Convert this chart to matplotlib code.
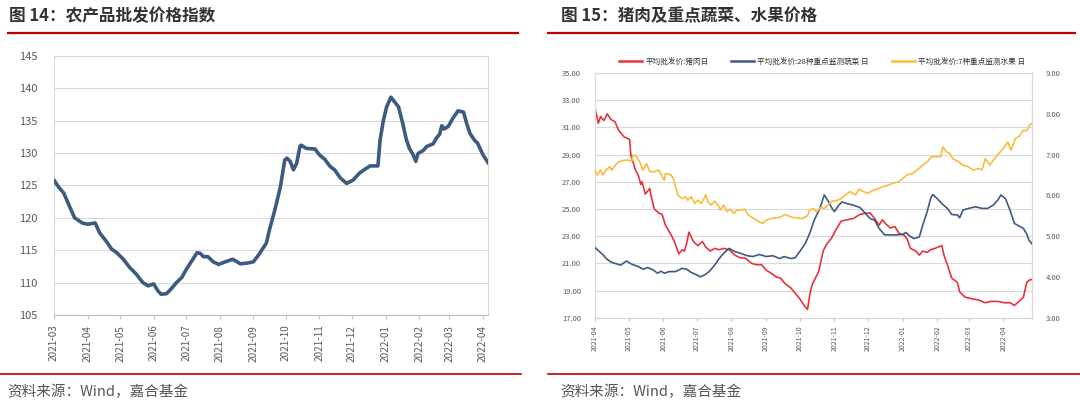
import numpy as np
import pandas as pd
import matplotlib
matplotlib.use('Agg')
import matplotlib.pyplot as plt
import matplotlib.dates as mdates

plt.rcParams['font.family'] = ['Noto Sans CJK SC', 'DejaVu Sans']

# ── Fig 14 data: 农产品批发价格指数 (days since 2021-03-01) ──────────────────
idx_days = [0, 4, 9, 15, 19, 26, 31, 38, 42, 49, 53, 58, 64, 70, 76, 82, 87, 92, 96, 99,
            104, 108, 113, 118, 122, 127, 132, 135, 138, 142, 147, 152, 158, 165, 172, 178,
            184, 189, 196, 199, 204, 209, 213, 215, 218, 221, 224, 227, 228, 233, 241, 245,
            250, 255, 259, 264, 270, 276, 282, 288, 292, 299, 301, 304, 307, 311, 318, 322,
            325, 328, 331, 334, 336, 341, 344, 350, 353, 356, 358, 360, 364, 368, 373, 378,
            381, 384, 388, 391, 396, 401]
idx_vals = [125.8, 124.8, 123.8, 121.5, 120.0, 119.2, 119.0, 119.2, 117.7, 116.2, 115.2, 114.6,
            113.6, 112.3, 111.3, 110.0, 109.5, 109.8, 108.7, 108.2, 108.3, 109.0, 110.0, 110.8,
            112.0, 113.3, 114.6, 114.5, 114.0, 114.0, 113.2, 112.8, 113.2, 113.6, 112.9, 113.0,
            113.2, 114.3, 116.1, 118.2, 121.3, 124.8, 128.9, 129.2, 128.7, 127.4, 128.4, 131.0,
            131.2, 130.7, 130.6, 129.7, 129.0, 127.9, 127.4, 126.2, 125.3, 125.8, 126.9, 127.6,
            128.0, 128.0, 132.0, 135.0, 137.1, 138.6, 137.1, 134.5, 132.2, 130.7, 129.9, 128.7,
            129.9, 130.4, 131.0, 131.4, 132.3, 132.9, 134.2, 133.7, 134.1, 135.3, 136.5, 136.3,
            134.5, 133.0, 132.0, 131.5, 129.7, 128.4]

# ── Fig 15 data (days since 2021-04-01) ───────────────────────────────────────
pork_days = [0, 3, 5, 8, 11, 14, 18, 21, 26, 29, 31, 32, 36, 39, 41, 42, 45, 49, 50, 53, 57,
             60, 63, 68, 71, 75, 78, 80, 82, 84, 88, 92, 96, 99, 103, 107, 111, 115, 120, 125,
             130, 134, 140, 144, 149, 153, 157, 162, 166, 170, 175, 179, 183, 187, 190, 192,
             194, 197, 200, 204, 207, 211, 215, 220, 225, 231, 237, 243, 246, 250, 254, 257,
             260, 264, 268, 272, 276, 279, 282, 287, 290, 293, 297, 300, 304, 310, 312, 315,
             319, 324, 326, 331, 337, 343, 349, 354, 360, 366, 371, 375, 379, 383, 386, 389, 391]
pork_vals = [32.4, 31.3, 31.8, 31.5, 32.0, 31.6, 31.4, 30.8, 30.3, 30.2, 30.1, 29.0, 27.9, 27.4,
             26.8, 27.0, 26.1, 26.5, 26.0, 25.0, 24.7, 24.6, 23.8, 23.1, 22.6, 21.7, 22.0, 21.9,
             22.5, 23.3, 22.6, 22.3, 22.6, 22.2, 21.9, 22.1, 22.0, 22.1, 22.0, 21.6, 21.4, 21.4,
             21.0, 20.9, 20.9, 20.5, 20.3, 20.0, 19.9, 19.5, 19.2, 18.8, 18.4, 17.9, 17.6, 18.7,
             19.4, 19.9, 20.4, 21.9, 22.4, 22.8, 23.4, 24.1, 24.2, 24.3, 24.6, 24.7, 24.7, 24.3,
             23.8, 24.2, 23.9, 23.6, 23.7, 23.2, 23.1, 22.8, 22.1, 21.9, 21.6, 21.9, 21.8, 22.0,
             22.1, 22.3, 21.6, 20.9, 19.9, 19.6, 18.9, 18.5, 18.4, 18.3, 18.1, 18.2, 18.2, 18.1,
             18.1, 17.9, 18.2, 18.5, 19.6, 19.8, 19.8]

veg_days = [0, 4, 7, 10, 14, 18, 23, 28, 33, 39, 43, 47, 52, 56, 59, 62, 66, 72, 78, 82, 86,
            91, 94, 98, 102, 107, 111, 115, 120, 125, 130, 136, 141, 147, 153, 159, 165, 169,
            175, 179, 183, 188, 192, 196, 201, 205, 208, 212, 214, 218, 221, 225, 231, 237,
            241, 246, 250, 254, 259, 263, 269, 275, 278, 281, 285, 290, 293, 297, 300, 302,
            306, 310, 315, 319, 324, 326, 329, 334, 340, 346, 351, 356, 360, 363, 367, 371,
            375, 379, 383, 386, 388, 391]
veg_vals = [4.72, 4.62, 4.55, 4.45, 4.37, 4.33, 4.29, 4.39, 4.31, 4.25, 4.19, 4.23, 4.17, 4.09,
            4.14, 4.09, 4.13, 4.13, 4.21, 4.19, 4.11, 4.05, 4.00, 4.05, 4.13, 4.29, 4.45, 4.58,
            4.70, 4.62, 4.58, 4.52, 4.50, 4.55, 4.50, 4.52, 4.45, 4.50, 4.45, 4.47, 4.62, 4.82,
            5.07, 5.39, 5.68, 6.01, 5.88, 5.68, 5.60, 5.76, 5.84, 5.80, 5.76, 5.70, 5.58, 5.43,
            5.39, 5.19, 5.03, 5.03, 5.03, 5.04, 5.09, 5.01, 4.94, 4.98, 5.27, 5.60, 5.92, 6.02,
            5.92, 5.80, 5.68, 5.53, 5.52, 5.45, 5.64, 5.68, 5.72, 5.68, 5.68, 5.76, 5.88, 6.01,
            5.92, 5.64, 5.31, 5.25, 5.19, 5.05, 4.90, 4.80]

fruit_days = [0, 2, 5, 7, 10, 13, 15, 18, 21, 26, 30, 33, 34, 37, 40, 43, 46, 49, 53, 57, 62,
              63, 68, 70, 74, 78, 81, 83, 86, 89, 92, 95, 99, 101, 104, 107, 110, 112, 115, 118,
              121, 124, 127, 131, 134, 137, 141, 146, 150, 153, 157, 162, 166, 170, 175, 179,
              185, 190, 192, 195, 198, 202, 205, 208, 212, 215, 220, 224, 228, 233, 236, 240,
              244, 249, 254, 257, 262, 266, 271, 275, 279, 284, 288, 293, 297, 301, 306, 309,
              311, 314, 317, 320, 325, 329, 334, 338, 343, 346, 349, 353, 356, 360, 365, 369,
              372, 376, 379, 383, 386, 388, 391]
fruit_vals = [6.62, 6.50, 6.62, 6.50, 6.62, 6.70, 6.62, 6.73, 6.82, 6.86, 6.86, 6.84, 6.99, 6.95,
              6.82, 6.62, 6.78, 6.58, 6.58, 6.62, 6.37, 6.54, 6.50, 6.41, 6.01, 5.92, 5.97, 5.88,
              5.97, 5.80, 5.88, 5.80, 6.01, 5.84, 5.76, 5.86, 5.76, 5.64, 5.76, 5.60, 5.66, 5.56,
              5.64, 5.64, 5.66, 5.52, 5.45, 5.37, 5.31, 5.39, 5.43, 5.45, 5.47, 5.53, 5.47, 5.45,
              5.43, 5.50, 5.64, 5.68, 5.60, 5.70, 5.68, 5.76, 5.86, 5.86, 5.92, 6.01, 6.09, 6.01,
              6.15, 6.09, 6.05, 6.13, 6.17, 6.21, 6.25, 6.29, 6.33, 6.41, 6.50, 6.54, 6.62, 6.74,
              6.82, 6.95, 6.95, 6.95, 7.19, 7.07, 7.03, 6.90, 6.82, 6.74, 6.70, 6.62, 6.66, 6.62,
              6.90, 6.74, 6.86, 6.99, 7.15, 7.31, 7.11, 7.40, 7.44, 7.60, 7.58, 7.70, 7.78]

titles = ['图 14：农产品批发价格指数', '图 15：猪肉及重点蔬菜、水果价格']
source = '资料来源：Wind，嘉合基金'
legend_labels = ['平均批发价:猪肉日', '平均批发价:28种重点监测蔬菜 日', '平均批发价:7种重点监测水果 日']

RED_RULE = '#C00000'
TXT = '#595959'
GRID = '#D9D9D9'
C = {'idx': '#3D5A80', 'pork': '#E8333D', 'veg': '#3F5B85', 'fruit': '#FDBA3B'}

start14 = pd.Timestamp('2021-03-01')
start15 = pd.Timestamp('2021-04-01')
to_dates = lambda s, d: s + pd.to_timedelta(d, unit='D')

fig = plt.figure(figsize=(10.8, 4.07), dpi=100)
fig.patch.set_facecolor('white')

# ── headers / rules / source text ─────────────────────────────────────────────
for x0, x1, tx, t in [(0.007, 0.480, 0.008, titles[0]), (0.507, 0.995, 0.519, titles[1])]:
    fig.text(tx, 1 - 16 / 407, t, fontsize=12, fontweight='bold', color='#333333',
             ha='left', va='center')
    fig.add_artist(plt.Line2D([x0, x1], [1 - 33 / 407] * 2, color=RED_RULE, lw=1.6))
for x0, x1, tx in [(0.0, 0.482, 0.007), (0.507, 1.0, 0.519)]:
    fig.add_artist(plt.Line2D([x0, x1], [1 - 374 / 407] * 2, color=RED_RULE, lw=1.2))
    fig.text(tx, 1 - 392 / 407, source, fontsize=10.5, color='#555555', ha='left', va='center')

# ── Fig 14 ────────────────────────────────────────────────────────────────────
ax1 = fig.add_axes([54 / 1080, 1 - 315 / 407, 434 / 1080, (315 - 55.7) / 407])
ax1.plot(to_dates(start14, idx_days), idx_vals, color=C['idx'], lw=2.6,
         solid_joinstyle='round', solid_capstyle='round', zorder=3)
ax1.set_ylim(105, 145)
ax1.set_yticks(np.arange(105, 146, 5))
ax1.set_xlim(start14, start14 + pd.Timedelta(days=400.6))
ax1.xaxis.set_major_locator(mdates.MonthLocator())
ax1.xaxis.set_major_formatter(mdates.DateFormatter('%Y-%m'))
ax1.grid(axis='y', color=GRID, lw=0.8)
ax1.tick_params(axis='y', length=0, labelsize=8, labelcolor=TXT, pad=12)
ax1.tick_params(axis='x', length=3, color='#BFBFBF', labelsize=7.2, labelcolor=TXT,
                labelrotation=90, pad=4)
for s in ax1.spines.values():
    s.set_color(GRID)
ax1.spines['bottom'].set_color('#BFBFBF')

# ── Fig 15 ────────────────────────────────────────────────────────────────────
ax2 = fig.add_axes([595 / 1080, 1 - 317.7 / 407, 437 / 1080, (317.7 - 73) / 407])
ax3 = ax2.twinx()
l1, = ax2.plot(to_dates(start15, pork_days), pork_vals, color=C['pork'], lw=1.2, zorder=3)
l2, = ax3.plot(to_dates(start15, veg_days), veg_vals, color=C['veg'], lw=1.2, zorder=3)
l3, = ax3.plot(to_dates(start15, fruit_days), fruit_vals, color=C['fruit'], lw=1.2, zorder=3)
ax2.set_ylim(17, 35)
ax2.set_yticks(np.arange(17, 36, 2))
ax2.yaxis.set_major_formatter(plt.FormatStrFormatter('%.2f'))
ax3.set_ylim(3, 9)
ax3.set_yticks(np.arange(3, 10, 1))
ax3.yaxis.set_major_formatter(plt.FormatStrFormatter('%.2f'))
ax2.set_xlim(start15, start15 + pd.Timedelta(days=390.7))
ax2.xaxis.set_major_locator(mdates.MonthLocator())
ax2.xaxis.set_major_formatter(mdates.DateFormatter('%Y-%m'))
ax2.grid(axis='y', color=GRID, lw=0.8)
ax2.tick_params(axis='y', length=0, labelsize=5.5, labelcolor=TXT, pad=10)
ax3.tick_params(axis='y', length=0, labelsize=5.5, labelcolor=TXT, pad=10)
ax2.tick_params(axis='x', length=2.5, color='#BFBFBF', labelsize=5, labelcolor=TXT,
                labelrotation=90, pad=3)
for a in (ax2, ax3):
    for s in a.spines.values():
        s.set_color(GRID)
ax2.spines['bottom'].set_color('#BFBFBF')

ax2.legend([l1, l2, l3], legend_labels, ncol=3, frameon=False, fontsize=5.5,
           loc='lower center', bbox_to_anchor=(0.52, 1.0), handlelength=3.0,
           columnspacing=3.0, handletextpad=0.4, labelcolor='#333333')
for h in ax2.get_legend().legend_handles:
    h.set_linewidth(1.8)

fig.savefig('out.png', dpi=100, facecolor='white')
